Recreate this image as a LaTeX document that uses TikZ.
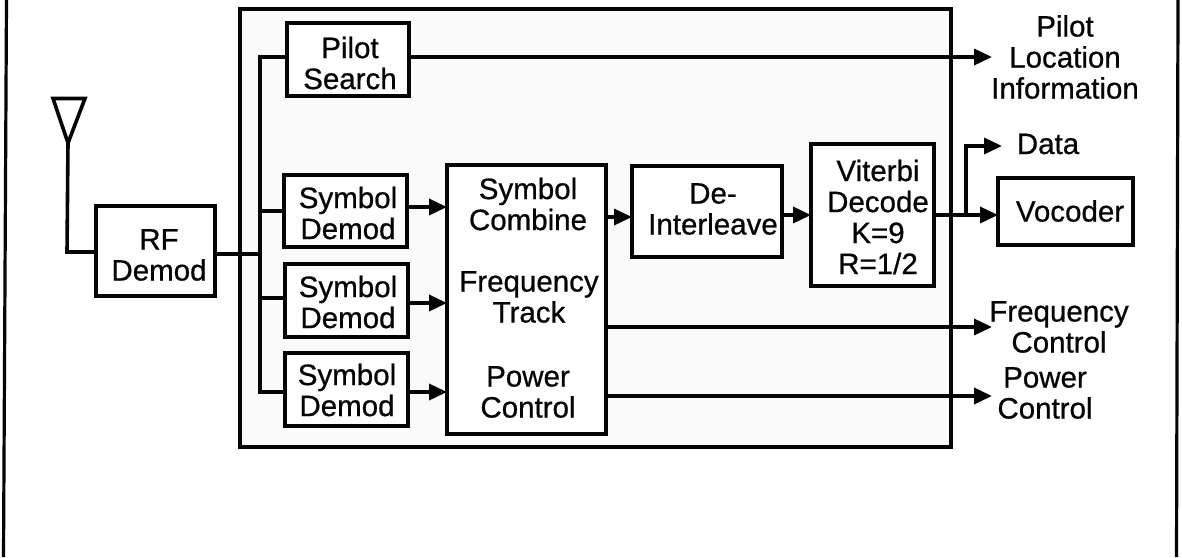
\documentclass[tikz,border=0pt]{standalone}
\usepackage{fontspec}
\setmainfont{Liberation Sans}
\newfontface\diaface[FakeBold=0.7]{Liberation Sans}
\usetikzlibrary{arrows.meta}
\tikzset{
  blk/.style={draw=ink,fill=white,line width=3.4pt,inner sep=0pt,outer sep=0pt},
  lbl/.style={align=center,inner sep=0pt,outer sep=0pt,text=ink,font=\diaface\fontsize{29.5}{31}\selectfont},
  wire/.style={draw=ink,line width=3.6pt,line cap=butt,line join=miter},
  arr/.style={wire,-{Triangle[length=18pt,width=16pt]}},
  rim/.style={draw=ink,line width=3.2pt}
}
\definecolor{ink}{gray}{0.02}
\begin{document}
\begin{tikzpicture}[x=1pt,y=-1pt]
\useasboundingbox (0,0) rectangle (1182,557);
\fill[white] (0,0) rectangle (1182,557);
% sheet edges
\coordinate (sheetLT) at (6.5,0);
\coordinate (sheetLB) at (3.5,557);
\coordinate (sheetRT) at (1178,0);
\coordinate (sheetRB) at (1176.5,557);
\draw[rim] (sheetLT) -- (sheetLB);
\draw[rim] (sheetRT) -- (sheetRB);
% enclosure
\node[blk,fill=gray!4,minimum width=711pt,minimum height=438pt] (frame) at (595.5,228) {};
% boxes
\node[blk,minimum width=122pt,minimum height=73pt] (pilot) at (348,59.5) {};
\node[blk,minimum width=123pt,minimum height=72pt] (symA) at (345.5,211) {};
\node[blk,minimum width=123pt,minimum height=73pt] (symB) at (346.5,300.5) {};
\node[blk,minimum width=123pt,minimum height=73pt] (symC) at (346.5,389.5) {};
\node[blk,minimum width=119pt,minimum height=90pt] (rf) at (155.5,251) {};
\node[blk,minimum width=159pt,minimum height=269pt] (big) at (526.5,299.5) {};
\node[blk,minimum width=150pt,minimum height=91pt] (deint) at (707,211.5) {};
\node[blk,minimum width=123pt,minimum height=142pt] (vit) at (872.5,215) {};
\node[blk,minimum width=135pt,minimum height=67pt] (voc) at (1065.5,211.5) {};
% box texts
\node[lbl] (tPilot) at (350,63) {Pilot\\Search};
\node[lbl] (tSymA) at (348,213) {Symbol\\Demod};
\node[lbl] (tSymB) at (348,302) {Symbol\\Demod};
\node[lbl] (tSymC) at (347,390) {Symbol\\Demod};
\node[lbl] (tRf) at (159,255) {RF\\Demod};
\node[lbl] (tCombine) at (528,204) {Symbol\\Combine};
\node[lbl] (tTrack) at (529,297) {Frequency\\Track};
\node[lbl] (tPower) at (528,392) {Power\\Control};
\node[lbl] (tDe) at (713,209) {De-\\Interleave};
\node[lbl] (tVit) at (878,217) {Viterbi\\Decode\\K=9\\R=1/2};
\node[lbl] (tVoc) at (1070,211) {Vocoder};
% outside texts
\node[lbl] (oPilot) at (1065,57) {Pilot\\Location\\Information};
\node[lbl] (oData) at (1048,144) {Data};
\node[lbl] (oFreq) at (1059,327) {Frequency\\Control};
\node[lbl] (oPow) at (1045,393) {Power\\Control};
% antenna
\coordinate (antL) at (53,98.5);
\coordinate (antR) at (85,98.5);
\coordinate (antT) at (68,143);
\coordinate (antF) at (67,252);
\draw[wire] (antL) -- (antR) -- (antT) -- cycle;
\draw[wire] (antT) -- (antF) -- (antF -| rf.west);
% bus
\coordinate (busTop) at (260,57);
\coordinate (busA) at (260,211);
\coordinate (busB) at (260,298);
\coordinate (busC) at (260,392);
\coordinate (busRf) at (260,254);
\draw[wire] (rf.east |- busRf) -- (busRf);
\draw[wire] (pilot.west |- busTop) -- (busTop) -- (busC) -- (symC.west |- busC);
\draw[wire] (busA) -- (symA.west |- busA);
\draw[wire] (busB) -- (symB.west |- busB);
% signal path
\coordinate (lvA) at (400,207);
\coordinate (lvB) at (400,303);
\coordinate (lvC) at (400,392);
\draw[arr] (symA.east |- lvA) -- (big.west |- lvA);
\draw[arr] (symB.east |- lvB) -- (big.west |- lvB);
\draw[arr] (symC.east |- lvC) -- (big.west |- lvC);
\coordinate (lvD) at (620,217);
\draw[arr] (big.east |- lvD) -- (deint.west |- lvD);
\coordinate (lvE) at (800,215);
\draw[arr] (deint.east |- lvE) -- (vit.west |- lvE);
\coordinate (tap) at (966,215);
\coordinate (tapTop) at (966,146);
\coordinate (dataTip) at (1002,146);
\draw[arr] (vit.east |- tap) -- (voc.west |- tap);
\draw[arr] (tap) -- (tapTop) -- (dataTip);
% outputs
\coordinate (pilotTip) at (992,57);
\coordinate (freqTip) at (992,327);
\coordinate (powTip) at (992,396);
\draw[arr] (pilot.east |- pilotTip) -- (pilotTip);
\draw[arr] (big.east |- freqTip) -- (freqTip);
\draw[arr] (big.east |- powTip) -- (powTip);
\end{tikzpicture}
\end{document}
